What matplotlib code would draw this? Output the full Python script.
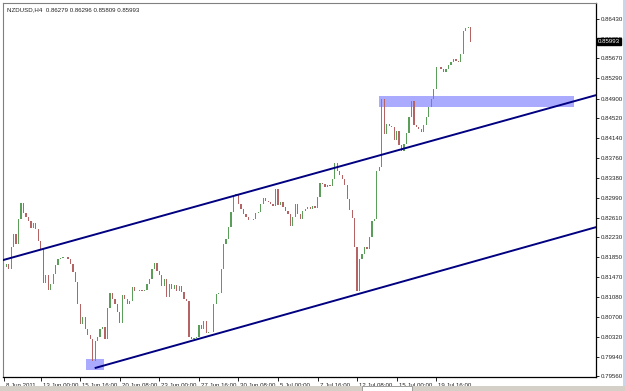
import matplotlib
matplotlib.use('Agg')
import matplotlib.pyplot as plt
import matplotlib.transforms as mtransforms
from matplotlib.patches import Rectangle

# NZDUSD H4 closes, one per bar
first_open = 0.81589
closes = [
    0.81666, 0.81724, 0.81628, 0.82050, 0.82300, 0.82108, 0.82588, 0.82895, 0.82703, 0.82626,
    0.82550, 0.82415, 0.82511, 0.82396, 0.82165, 0.82012, 0.81359, 0.81512, 0.81224, 0.81339,
    0.81531, 0.81704, 0.81820, 0.81839, 0.81858, 0.81850, 0.81820, 0.81724, 0.81570, 0.81378,
    0.80955, 0.80571, 0.80705, 0.80475, 0.80360, 0.80283, 0.79860, 0.80244, 0.80321, 0.80475,
    0.80513, 0.80283, 0.80878, 0.81166, 0.81051, 0.80955, 0.80801, 0.80590, 0.81128, 0.81051,
    0.80955, 0.81013, 0.81282, 0.81205, 0.81200, 0.81224, 0.81205, 0.81224, 0.81339, 0.81435,
    0.81628, 0.81743, 0.81589, 0.81512, 0.81301, 0.81435, 0.81090, 0.81339, 0.81243, 0.81320,
    0.81205, 0.81301, 0.81186, 0.81051, 0.81013, 0.80321, 0.80283, 0.80290, 0.80321, 0.80552,
    0.80475, 0.80629, 0.80398, 0.80405, 0.80417, 0.80955, 0.81147, 0.81166, 0.81628, 0.82108,
    0.82204, 0.82434, 0.82722, 0.83030, 0.83068, 0.82876, 0.82780, 0.82684, 0.82626, 0.82569,
    0.82575, 0.82588, 0.82703, 0.82722, 0.82876, 0.82991, 0.82934, 0.82915, 0.82876, 0.82838,
    0.83164, 0.82857, 0.82915, 0.82818, 0.82742, 0.82684, 0.82454, 0.82626, 0.82876, 0.82684,
    0.82588, 0.82742, 0.82780, 0.82818, 0.82780, 0.82838, 0.82799, 0.83011, 0.83280, 0.83260,
    0.83203, 0.83241, 0.83222, 0.83356, 0.83664, 0.83510, 0.83433, 0.83356, 0.83241, 0.82972,
    0.82761, 0.82607, 0.82050, 0.81205, 0.81820, 0.81916, 0.82050, 0.82012, 0.82242, 0.82550,
    0.82588, 0.83510, 0.83587, 0.84893, 0.84221, 0.84413, 0.84374, 0.84355, 0.84106, 0.84279,
    0.84010, 0.83894, 0.84029, 0.84240, 0.84547, 0.84855, 0.84394, 0.84355, 0.84317, 0.84259,
    0.84394, 0.84547, 0.84740, 0.84893, 0.85085, 0.85508, 0.85500, 0.85470, 0.85412, 0.85470,
    0.85546, 0.85604, 0.85662, 0.85623, 0.85604, 0.85758, 0.86200, 0.86257, 0.86279, 0.85993,
]

# trend channel lines (bar index, price)
upper_x = [0, 240.1]
upper_y = [0.81800, 0.84970]
lower_x = [37.2, 240.1]
lower_y = [0.79726, 0.82434]

# highlighted zones (bar start, bar end, price low, price high)
zones = [(151.8, 230.8, 0.84740, 0.84951), (33.2, 40.5, 0.79691, 0.79902)]

date_pos = [0, 15, 31, 47, 63, 79, 95, 111, 127, 143, 159, 175]
date_labels = ['8 Jun 2011', '13 Jun 00:00', '15 Jun 16:00', '20 Jun 08:00', '23 Jun 00:00',
               '27 Jun 16:00', '30 Jun 08:00', '5 Jul 00:00', '7 Jul 16:00', '12 Jul 08:00',
               '15 Jul 00:00', '19 Jul 16:00']
price_ticks = [0.79560, 0.79940, 0.80320, 0.80700, 0.81080, 0.81470, 0.81850, 0.82230,
               0.82610, 0.82990, 0.83380, 0.83760, 0.84140, 0.84520, 0.84900, 0.85290,
               0.85670, 0.86050, 0.86430]
last_price = 0.85993
title = 'NZDUSD,H4  0.86279 0.86296 0.85809 0.85993'

plt.rcParams['font.family'] = ['Liberation Sans', 'DejaVu Sans']
fs = 4.4

fig = plt.figure(figsize=(6.25, 3.91), dpi=100)
fig.patch.set_facecolor('white')
ax = fig.add_axes([3 / 625, 1 - 377 / 391, 593 / 625, 374 / 391])

# zones
for x0, x1, lo, hi in zones:
    ax.add_patch(Rectangle((x0, lo), x1 - x0, hi - lo, facecolor='#aaaaff',
                           edgecolor='none', zorder=1))

# candles
opens = [first_open] + closes[:-1]
for i, (o, c) in enumerate(zip(opens, closes)):
    col = '#5a9e5a' if c >= o else '#b46464'
    lo = min(o, c)
    h = max(abs(c - o), 0.00005)
    ax.bar(i, h, bottom=lo, width=0.5, color=col, linewidth=0, zorder=2)

ax.plot(upper_x, upper_y, color='#000080', lw=1.4, zorder=3)
ax.plot(lower_x, lower_y, color='#000080', lw=1.4, zorder=3)

ax.set_xlim(-0.3, 239.7)
ax.set_ylim(0.7955, 0.86735)

ax.yaxis.tick_right()
ax.set_yticks(price_ticks)
ax.set_yticklabels(['%.5f' % p for p in price_ticks], fontsize=fs, color='#222222')
ax.tick_params(axis='y', length=2.5, width=0.6, pad=0.8)

ax.set_xticks(date_pos)
ax.set_xticklabels(date_labels, fontsize=fs, color='#222222', ha='left')
ax.tick_params(axis='x', length=3, width=0.6, pad=1.5)
offset = mtransforms.ScaledTranslation(2 / 100, 0, fig.dpi_scale_trans)
for lab in ax.get_xticklabels():
    lab.set_transform(lab.get_transform() + offset)

for s in ['left', 'top']:
    ax.spines[s].set_color('#808080')
for s in ['right', 'bottom']:
    ax.spines[s].set_color('black')
    ax.spines[s].set_linewidth(0.9)

ax.text(0.006, 0.988, title, transform=ax.transAxes, fontsize=fs, va='top', ha='left',
        color='#222222')

# current price marker on the right scale
ax.text(1.0035, last_price, '%.5f' % last_price, transform=ax.get_yaxis_transform(),
        fontsize=fs, color='white', va='center', ha='left', zorder=10, clip_on=False,
        bbox=dict(boxstyle='square,pad=0.2', facecolor='black', edgecolor='black'))

# window frame bits
fig.patches.append(Rectangle((622.5 / 625, 0), 2.5 / 625, 1, transform=fig.transFigure,
                             facecolor='#c8d8ec', edgecolor='none', zorder=-1))
fig.patches.append(Rectangle((0, 0), 1, 5 / 391, transform=fig.transFigure,
                             facecolor='#d4d0c8', edgecolor='none'))
fig.patches.append(Rectangle((362 / 625, 0), 50 / 625, 5 / 391, transform=fig.transFigure,
                             facecolor='white', edgecolor='#808080', lw=0.5))

fig.savefig('out.png', dpi=100)
